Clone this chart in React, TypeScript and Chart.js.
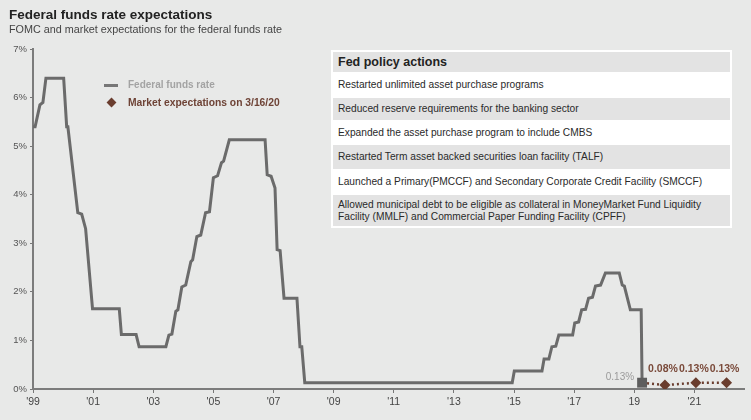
import React, { useEffect, useRef } from 'react';
import { Chart, registerables } from 'chart.js';

Chart.register(...registerables);

const fedYears = [
  1999.0, 1999.07, 1999.23, 1999.33, 1999.43, 2000.02, 2000.12, 2000.16, 2000.49, 2000.62,
  2000.75, 2000.98, 2001.87, 2001.94, 2002.43, 2002.53, 2003.42, 2003.52, 2003.62, 2003.75,
  2003.82, 2003.95, 2004.08, 2004.25, 2004.31, 2004.45, 2004.58, 2004.74, 2004.87, 2005.0,
  2005.14, 2005.27, 2005.34, 2005.53, 2006.72, 2006.79, 2006.92, 2007.05, 2007.12, 2007.22,
  2007.35, 2007.78, 2007.88, 2007.94, 2008.04, 2014.94, 2015.01, 2015.93, 2016.0, 2016.16,
  2016.26, 2016.39, 2016.49, 2016.95, 2017.02, 2017.15, 2017.25, 2017.38, 2017.48, 2017.61,
  2017.71, 2017.88, 2018.04, 2018.5, 2018.6, 2018.67, 2018.87, 2019.23, 2019.26,
];
const fedRates = [
  5.4, 5.4, 5.85, 5.9, 6.4, 6.4, 5.4, 5.4, 3.63, 3.6,
  3.3, 1.65, 1.65, 1.12, 1.12, 0.87, 0.87, 1.11, 1.13, 1.6,
  1.63, 2.1, 2.14, 2.62, 2.66, 3.14, 3.17, 3.63, 3.65, 4.35,
  4.39, 4.66, 4.69, 5.13, 5.13, 4.41, 4.38, 4.14, 2.87, 2.85,
  1.87, 1.87, 0.87, 0.87, 0.13, 0.13, 0.37, 0.37, 0.62, 0.62,
  0.87, 0.88, 1.11, 1.11, 1.36, 1.38, 1.63, 1.64, 1.87, 1.89,
  2.12, 2.14, 2.39, 2.39, 2.14, 2.12, 1.63, 1.63, 0.13,
];

const marketYears = [2019.26, 2020.02, 2021.05, 2022.07];
const marketRates = [0.13, 0.08, 0.13, 0.13];

const xTickYears = [1999, 2001, 2003, 2005, 2007, 2009, 2011, 2013, 2015, 2017, 2019, 2021];
const xTickLabels = ["'99", "'01", "'03", "'05", "'07", "'09", "'11", "'13", "'15", "'17", '19', "'21"];

const yTickValues = [0, 1, 2, 3, 4, 5, 6, 7];

const titleText = 'Federal funds rate expectations';
const subtitleText = 'FOMC and market expectations for the federal funds rate';
const legendFed = 'Federal funds rate';
const legendMarket = 'Market expectations on 3/16/20';

const tableHeader = 'Fed policy actions';
const policyActions = [
  'Restarted unlimited asset purchase programs',
  'Reduced reserve requirements for the banking sector',
  'Expanded the asset purchase program to include CMBS',
  'Restarted Term asset backed securities loan facility (TALF)',
  'Launched a Primary(PMCCF) and Secondary Corporate Credit Facility (SMCCF)',
  'Allowed municipal debt to be eligible as collateral in MoneyMarket Fund Liquidity Facility (MMLF) and Commercial Paper Funding Facility (CPFF)',
];

const FONT = "'Liberation Sans', Arial, Helvetica, sans-serif";
const LINE_COLOR = '#6b6b6b';
const BROWN = '#6a3d2e';

const labelPlugin = {
  id: 'valueLabels',
  afterDatasetsDraw(chart: any) {
    const { ctx, scales } = chart;
    const xs = scales.x;
    const ys = scales.y;
    ctx.save();
    const li = fedYears.length - 1;
    ctx.font = `10px ${FONT}`;
    ctx.fillStyle = '#9a9a9a';
    ctx.textAlign = 'right';
    ctx.textBaseline = 'middle';
    ctx.fillText(
      fedRates[li].toFixed(2) + '%',
      xs.getPixelForValue(fedYears[li]) - 8,
      ys.getPixelForValue(fedRates[li]) - 5
    );
    ctx.font = `bold 10.5px ${FONT}`;
    ctx.fillStyle = '#7a4a3a';
    ctx.textAlign = 'center';
    for (let i = 1; i < marketYears.length; i++) {
      ctx.fillText(
        marketRates[i].toFixed(2) + '%',
        xs.getPixelForValue(marketYears[i]) - 2,
        ys.getPixelForValue(0.13) - 14
      );
    }
    ctx.restore();
  },
};

function ChartCanvas() {
  const ref = useRef<HTMLCanvasElement | null>(null);
  useEffect(() => {
    if (!ref.current) return;
    const chart = new Chart(ref.current, {
      type: 'line',
      data: {
        datasets: [
          {
            label: legendFed,
            data: fedYears.map((x, i) => ({ x, y: fedRates[i] })),
            borderColor: LINE_COLOR,
            backgroundColor: '#5e5e5e',
            borderWidth: 3,
            tension: 0,
            pointStyle: 'rect',
            pointRadius: (c: any) => (c.dataIndex === fedYears.length - 1 ? 7 : 0),
            pointBorderWidth: 0,
            pointBackgroundColor: '#5e5e5e',
          },
          {
            label: legendMarket,
            data: marketYears.map((x, i) => ({ x, y: marketRates[i] })),
            borderColor: BROWN,
            backgroundColor: BROWN,
            borderWidth: 2.5,
            borderDash: [2, 3],
            tension: 0,
            pointStyle: 'rectRot',
            pointRadius: (c: any) => (c.dataIndex === 0 ? 0 : 5.5),
            pointBorderWidth: 0,
            pointBackgroundColor: BROWN,
          },
        ],
      },
      options: {
        responsive: false,
        animation: false,
        events: [],
        layout: { padding: { top: 49, right: 1, left: 0, bottom: 0 } },
        plugins: {
          legend: { display: false },
          tooltip: { enabled: false },
          title: { display: false },
        },
        scales: {
          x: {
            type: 'linear',
            min: 1999,
            max: 2022.65,
            afterBuildTicks: (s: any) => {
              s.ticks = xTickYears.map((v) => ({ value: v }));
            },
            afterFit: (s: any) => {
              s.height = 31;
            },
            ticks: {
              autoSkip: false,
              maxRotation: 0,
              padding: 3,
              color: '#444',
              font: { family: FONT, size: 10.5 },
              callback: (v: any) => {
                const i = xTickYears.indexOf(Number(v));
                return i >= 0 ? xTickLabels[i] : '';
              },
            },
            grid: {
              display: true,
              drawOnChartArea: false,
              drawTicks: true,
              tickLength: 4,
              color: '#777',
              lineWidth: 1,
            },
            border: { display: true, color: '#7c7c7c', width: 2 },
          },
          y: {
            min: 0,
            max: 7,
            afterBuildTicks: (s: any) => {
              s.ticks = yTickValues.map((v) => ({ value: v }));
            },
            afterFit: (s: any) => {
              s.width = 33;
            },
            ticks: {
              padding: 3,
              color: '#555',
              font: { family: FONT, size: 9.5 },
              callback: (v: any) => `${v}%`,
            },
            grid: {
              display: true,
              drawOnChartArea: false,
              drawTicks: true,
              tickLength: 3,
              color: '#777',
              lineWidth: 1,
            },
            border: { display: true, color: '#7c7c7c', width: 2 },
          },
        },
      },
      plugins: [labelPlugin],
    } as any);
    return () => chart.destroy();
  }, []);
  return (
    <canvas
      ref={ref}
      width={751}
      height={420}
      style={{ position: 'absolute', left: 0, top: 0, width: 751, height: 420 }}
    />
  );
}

export default function App() {
  const rowStyle = (gray: boolean, h: number): React.CSSProperties => ({
    background: gray ? '#e3e3e3' : '#ffffff',
    height: h,
    boxSizing: 'border-box',
    padding: '0 4px 0 5px',
    display: 'flex',
    alignItems: 'center',
    fontSize: 10.2,
    color: '#2a2a2a',
    lineHeight: '12px',
  });
  const heights = [22, 22, 21, 24, 22, 31];
  return (
    <div
      style={{
        position: 'absolute',
        left: 0,
        top: 0,
        width: 751,
        height: 420,
        background: '#e8e9e8',
        fontFamily: FONT,
        overflow: 'hidden',
      }}
    >
      <ChartCanvas />
      <div style={{ position: 'absolute', left: 9, top: 7, fontSize: 13.5, fontWeight: 'bold', color: '#222' }}>
        {titleText}
      </div>
      <div style={{ position: 'absolute', left: 9, top: 23, fontSize: 10.8, color: '#444' }}>{subtitleText}</div>

      <div style={{ position: 'absolute', left: 104, top: 84, width: 14, height: 3, background: '#777' }} />
      <div style={{ position: 'absolute', left: 128, top: 79, fontSize: 10, color: '#a3a3a3', fontWeight: 'bold' }}>
        {legendFed}
      </div>
      <div
        style={{
          position: 'absolute',
          left: 108,
          top: 99,
          width: 7,
          height: 7,
          background: BROWN,
          transform: 'rotate(45deg)',
        }}
      />
      <div style={{ position: 'absolute', left: 128, top: 97, fontSize: 10.3, color: '#6e4336', fontWeight: 'bold' }}>
        {legendMarket}
      </div>

      <div
        style={{
          position: 'absolute',
          left: 331,
          top: 50,
          width: 401,
          background: '#ffffff',
          padding: 2,
          boxSizing: 'border-box',
          display: 'flex',
          flexDirection: 'column',
          gap: 2,
        }}
      >
        <div
          style={{
            background: '#e3e3e3',
            height: 20,
            padding: '0 5px',
            display: 'flex',
            alignItems: 'center',
            fontSize: 12.5,
            fontWeight: 'bold',
            color: '#222',
          }}
        >
          {tableHeader}
        </div>
        {policyActions.map((t, i) => (
          <div key={i} style={rowStyle(i % 2 === 1, heights[i])}>
            {t}
          </div>
        ))}
      </div>
    </div>
  );
}
